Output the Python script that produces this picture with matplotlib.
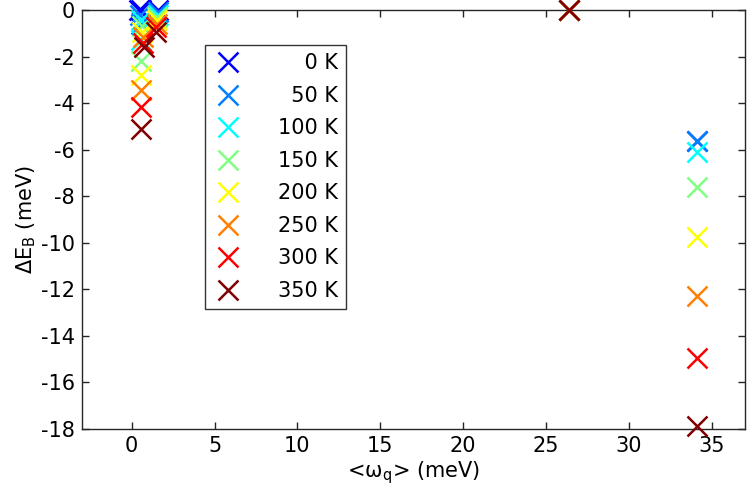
import matplotlib
matplotlib.use("Agg")
import matplotlib.pyplot as plt

# ---- data ----
temps = [0, 50, 100, 150, 200, 250, 300, 350]
labels = ["\u2007\u20070 K", "\u200750 K", "100 K", "150 K", "200 K", "250 K", "300 K", "350 K"]
colors = [(0, 0, 1), (0, 0.5, 1), (0, 1, 1), (0.5, 1, 0.5),
          (1, 1, 0), (1, 0.5, 0), (1, 0, 0), (0.5, 0, 0)]

# mode 1 (deep, low frequency)
w1 = [0.55, 0.55, 0.55, 0.55, 0.55, 0.55, 0.55, 0.55]
e1 = [0.0, -0.6, -1.3, -2.2, -2.8, -3.45, -4.15, -5.1]
# mode 2
w2 = [0.45, 0.5, 0.55, 0.6, 0.63, 0.66, 0.7, 0.72]
e2 = [0.0, -0.2, -0.45, -0.7, -0.95, -1.15, -1.4, -1.6]
# mode 3
w3 = [1.6, 1.58, 1.56, 1.54, 1.52, 1.5, 1.48, 1.45]
e3 = [0.0, -0.1, -0.2, -0.3, -0.45, -0.6, -0.75, -0.95]
# mode 4
w4 = [26.4] * 8
e4 = [0.0] * 8
# mode 5
w5 = [34.1] * 8
e5 = [-5.63, -5.63, -6.1, -7.6, -9.75, -12.29, -14.95, -17.87]

xticks = [0, 5, 10, 15, 20, 25, 30, 35]
yticks = [-18, -16, -14, -12, -10, -8, -6, -4, -2, 0]

plt.rcParams['font.family'] = ['DejaVu Sans']
plt.rcParams['axes.unicode_minus'] = False
plt.rcParams['mathtext.fontset'] = 'dejavusans'

fig = plt.figure(figsize=(7.47, 4.94), dpi=100)
ax = fig.add_axes([0.1098, 0.1316, 0.8872, 0.8482])

ms = 15
mew = 1.8
for i, t in enumerate(temps):
    xs = [w1[i], w2[i], w3[i], w4[i], w5[i]]
    ys = [e1[i], e2[i], e3[i], e4[i], e5[i]]
    ax.plot(xs, ys, linestyle='none', marker='x', markersize=ms,
            markeredgewidth=mew, color=colors[i], label=labels[i],
            clip_on=False, zorder=3)

ax.set_xlim(-3, 37)
ax.set_ylim(-18, 0)
ax.set_xticks(xticks)
ax.set_yticks(yticks)
ax.set_xticklabels([str(v) for v in xticks])
ax.set_yticklabels([str(v) for v in yticks])
ax.tick_params(direction='in', top=True, right=True, length=5, width=1,
               labelsize=15, color=(0.15, 0.15, 0.15), pad=5)
for s in ax.spines.values():
    s.set_color((0.15, 0.15, 0.15))
    s.set_linewidth(1)

ax.set_xlabel('<ω$_\\mathregular{q}$> (meV)', fontsize=15, labelpad=2)
ax.set_ylabel('ΔE$_\\mathregular{B}$ (meV)', fontsize=15, labelpad=2)

leg = ax.legend(loc='upper left', bbox_to_anchor=(0.1855, 0.9165),
                borderaxespad=0, fontsize=15, frameon=True, fancybox=False,
                edgecolor='black', handlelength=1.4, handletextpad=1.7,
                labelspacing=0.6, borderpad=0.4, markerscale=1.0)
leg.get_frame().set_linewidth(1)

fig.savefig('out.png', dpi=100)
